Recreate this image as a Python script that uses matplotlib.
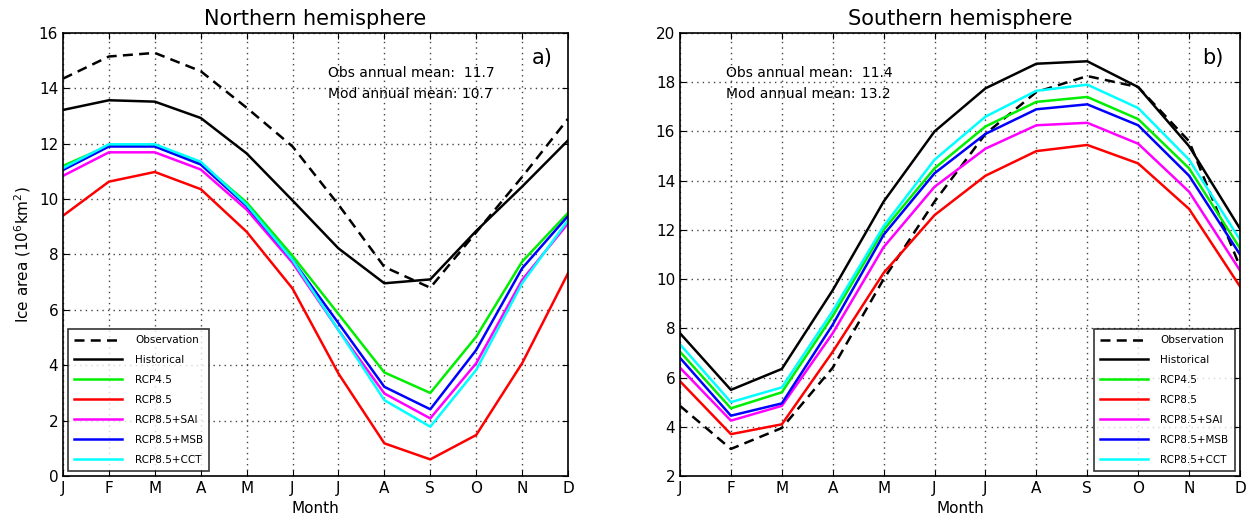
import matplotlib
matplotlib.use('Agg')
import matplotlib.pyplot as plt
import numpy as np

months = ['J', 'F', 'M', 'A', 'M', 'J', 'J', 'A', 'S', 'O', 'N', 'D']
labels = ['Observation', 'Historical', 'RCP4.5', 'RCP8.5', 'RCP8.5+SAI', 'RCP8.5+MSB', 'RCP8.5+CCT']

# Northern hemisphere (10^6 km^2)
nh_obs = [14.35, 15.15, 15.28, 14.62, 13.3, 11.9, 9.8, 7.55, 6.8, 8.8, 10.8, 12.9]
nh_hist = [13.22, 13.57, 13.52, 12.93, 11.65, 9.95, 8.22, 6.96, 7.1, 8.85, 10.45, 12.12]
nh_rcp45 = [11.2, 11.93, 11.93, 11.3, 9.88, 7.95, 5.85, 3.74, 3.0, 5.03, 7.74, 9.5]
nh_rcp85 = [9.4, 10.63, 10.98, 10.36, 8.82, 6.77, 3.7, 1.18, 0.6, 1.48, 4.07, 7.32]
nh_sai = [10.84, 11.69, 11.69, 11.07, 9.62, 7.7, 5.27, 2.98, 2.08, 4.07, 7.08, 9.12]
nh_msb = [11.05, 11.9, 11.9, 11.25, 9.75, 7.8, 5.52, 3.22, 2.41, 4.55, 7.5, 9.39]
nh_cct = [11.12, 11.98, 11.98, 11.35, 9.8, 7.8, 5.27, 2.74, 1.78, 3.83, 6.96, 9.24]

# Southern hemisphere (10^6 km^2)
sh_obs = [4.85, 3.1, 3.95, 6.4, 10.0, 13.15, 15.9, 17.6, 18.25, 17.8, 15.6, 10.5]
sh_hist = [7.8, 5.5, 6.35, 9.55, 13.15, 16.0, 17.75, 18.75, 18.85, 17.8, 15.4, 12.05]
sh_rcp45 = [7.05, 4.75, 5.4, 8.5, 12.0, 14.5, 16.2, 17.2, 17.4, 16.5, 14.5, 11.25]
sh_rcp85 = [5.85, 3.7, 4.1, 7.05, 10.25, 12.6, 14.2, 15.2, 15.45, 14.7, 12.85, 9.7]
sh_sai = [6.4, 4.25, 4.85, 7.8, 11.3, 13.75, 15.3, 16.25, 16.35, 15.5, 13.55, 10.35]
sh_msb = [6.8, 4.45, 4.95, 8.15, 11.8, 14.3, 15.9, 16.9, 17.1, 16.25, 14.2, 11.0]
sh_cct = [7.35, 5.0, 5.6, 8.7, 12.15, 14.85, 16.6, 17.65, 17.9, 16.95, 14.85, 11.6]

colors = ['black', 'black', '#00ee00', '#ff0000', '#ff00ff', '#0000ff', '#00ffff']
styles = ['--', '-', '-', '-', '-', '-', '-']

fig = plt.figure(figsize=(12.5, 5.2), dpi=100)
ax1 = fig.add_axes([0.0504, 0.0846, 0.404, 0.852])
ax2 = fig.add_axes([0.544, 0.0846, 0.448, 0.852])

x = np.arange(12)

def draw(ax, series, ylim, loc, title, tag, txt, txtx):
    for s, c, ls, lab in zip(series, colors, styles, labels):
        ax.plot(x, s, color=c, ls=ls, lw=1.8, label=lab,
                dashes=(4, 2.5) if ls == '--' else (None, None))
    ax.set_xlim(0, 11)
    ax.set_ylim(*ylim)
    ax.set_yticks(np.arange(ylim[0], ylim[1] + 1, 2))
    ax.set_xticks(x)
    ax.set_xticklabels(months)
    ax.tick_params(direction='in', top=True, right=True, labelsize=11, length=4)
    ax.grid(True, ls=(0, (1, 3)), color='#444444', lw=1)
    ax.set_title(title, fontsize=15, pad=6)
    ax.set_xlabel('Month', fontsize=11, labelpad=4)
    for sp in ax.spines.values():
        sp.set_linewidth(1.2)
    ax.text(0.97, 0.93, tag, transform=ax.transAxes, fontsize=15, ha='right')
    ax.text(txtx, 0.925, txt, transform=ax.transAxes, fontsize=10, va='top',
            linespacing=1.6)
    leg = ax.legend(loc=loc, fontsize=7.5, handlelength=4.6, frameon=True,
                    fancybox=False, edgecolor='black', borderpad=0.6,
                    labelspacing=0.95, handletextpad=1.2, borderaxespad=0.5)
    leg.get_frame().set_linewidth(1.2)

draw(ax1, [nh_obs, nh_hist, nh_rcp45, nh_rcp85, nh_sai, nh_msb, nh_cct], (0, 16),
     'lower left', 'Northern hemisphere', 'a)',
     'Obs annual mean:  11.7\nMod annual mean: 10.7', 0.525)
draw(ax2, [sh_obs, sh_hist, sh_rcp45, sh_rcp85, sh_sai, sh_msb, sh_cct], (2, 20),
     'lower right', 'Southern hemisphere', 'b)',
     'Obs annual mean:  11.4\nMod annual mean: 13.2', 0.083)
ax1.set_ylabel('Ice area (10$^6$km$^2$)', fontsize=11)

fig.savefig('out.png', dpi=100)
